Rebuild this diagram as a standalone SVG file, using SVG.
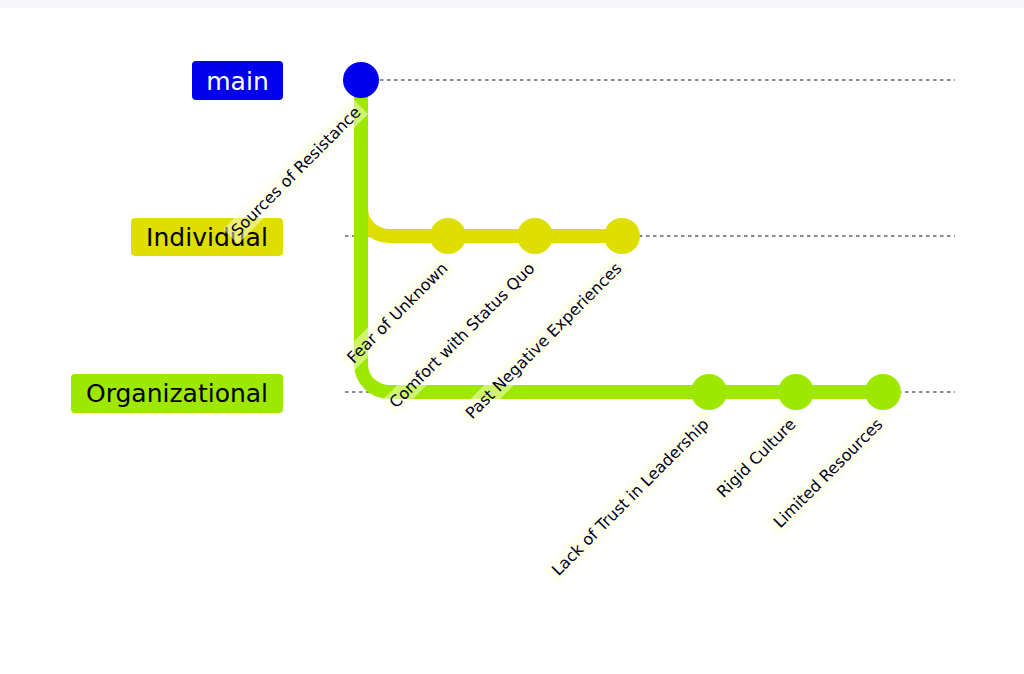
<svg xmlns="http://www.w3.org/2000/svg" width="1024" height="674" viewBox="0 0 1024 674">
<style>
.grid{stroke:#666;stroke-width:1.6;stroke-dasharray:3.5 3.5;fill:none}
.br{fill:none;stroke-width:14;stroke-linecap:round}
.bl{font-family:"DejaVu Sans",Verdana,sans-serif;font-size:25px;text-anchor:middle;dominant-baseline:central}
.cl{font-family:"DejaVu Sans",Verdana,sans-serif;font-size:16px;fill:#000021;text-anchor:end}
.clbg{fill:#ffffde;opacity:0.5}
</style>
<rect x="0" y="0" width="1024" height="674" fill="#ffffff"/>
<rect x="0" y="0" width="1024" height="8" fill="#f6f6f8"/>
<g id="gridlines">
<line class="grid" x1="345" y1="80" x2="955" y2="80"/>
<line class="grid" x1="345" y1="236" x2="955" y2="236"/>
<line class="grid" x1="345" y1="392" x2="955" y2="392"/>
</g>
<g id="connectors">
<path class="br" stroke="#dede00" d="M361 90 L361 208 A28 28 0 0 0 389 236 L622 236"/>
<path class="br" stroke="#9ee800" d="M361 90 L361 364 A28 28 0 0 0 389 392 L883 392"/>
</g>
<g id="branch-main">
<rect x="192" y="61" width="91" height="39" rx="4" fill="#0000ee"/>
<text class="bl" x="237.5" y="81" fill="#ffffff">main</text>
</g>
<g id="branch-individual">
<rect x="131" y="218" width="152" height="38" rx="4" fill="#dede00"/>
<text class="bl" x="207" y="237" fill="#000000">Individual</text>
</g>
<g id="branch-organizational">
<rect x="71" y="374" width="212" height="39" rx="4" fill="#9ee800"/>
<text class="bl" x="177" y="393" fill="#000000">Organizational</text>
</g>
<g id="commits">
<circle cx="361" cy="80" r="18" fill="#0000ee"/>
<circle cx="448" cy="236" r="18" fill="#dede00"/>
<circle cx="535" cy="236" r="18" fill="#dede00"/>
<circle cx="622" cy="236" r="18" fill="#dede00"/>
<circle cx="709" cy="392" r="18" fill="#9ee800"/>
<circle cx="796" cy="392" r="18" fill="#9ee800"/>
<circle cx="883" cy="392" r="18" fill="#9ee800"/>
</g>
<g id="commit-labels">
<g transform="translate(361,80) rotate(-45)"><rect class="clbg" x="-203" y="8" width="184" height="21"/><text class="cl" x="-23" y="24">Sources of Resistance</text></g>
<g transform="translate(448,236) rotate(-45)"><rect class="clbg" x="-162" y="8" width="143" height="21"/><text class="cl" x="-23" y="24">Fear of Unknown</text></g>
<g transform="translate(535,236) rotate(-45)"><rect class="clbg" x="-225" y="8" width="206" height="21"/><text class="cl" x="-23" y="24">Comfort with Status Quo</text></g>
<g transform="translate(622,236) rotate(-45)"><rect class="clbg" x="-241" y="8" width="222" height="21"/><text class="cl" x="-23" y="24">Past Negative Experiences</text></g>
<g transform="translate(709,392) rotate(-45)"><rect class="clbg" x="-243" y="8" width="224" height="21"/><text class="cl" x="-23" y="24">Lack of Trust in Leadership</text></g>
<g transform="translate(796,392) rotate(-45)"><rect class="clbg" x="-131" y="8" width="112" height="21"/><text class="cl" x="-23" y="24">Rigid Culture</text></g>
<g transform="translate(883,392) rotate(-45)"><rect class="clbg" x="-175" y="8" width="156" height="21"/><text class="cl" x="-23" y="24">Limited Resources</text></g>
</g>
</svg>
